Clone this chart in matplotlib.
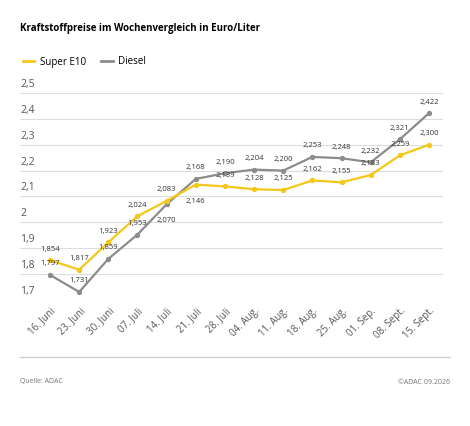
import matplotlib
matplotlib.use("Agg")
import matplotlib.pyplot as plt
from matplotlib.lines import Line2D

dates = ["16. Juni","23. Juni","30. Juni","07. Juli","14. Juli","21. Juli","28. Juli",
         "04. Aug.","11. Aug.","18. Aug.","25. Aug.","01. Sep.","08. Sept.","15. Sept."]
e10 = [1.854,1.817,1.923,2.024,2.083,2.146,2.139,2.128,2.125,2.162,2.155,2.183,2.259,2.300]
diesel = [1.797,1.731,1.859,1.953,2.070,2.168,2.190,2.204,2.200,2.253,2.248,2.232,2.321,2.422]
yticks = [1.7,1.8,1.9,2.0,2.1,2.2,2.3,2.4,2.5]

YEL = "#f5c718"; GRY = "#8c8c8c"
plt.rcParams['font.family'] = ['Open Sans', 'DejaVu Sans']
fig = plt.figure(figsize=(4.70,4.26), dpi=100)
ax = fig.add_axes([20/470, 1-300/426, 423/470, 207/426])
x = list(range(len(dates)))
ax.set_xlim(-1.03, 13.48); ax.set_ylim(1.7, 2.5)
for t in yticks:
    ax.axhline(t, color="#dddddd", lw=0.8, zorder=0)
    ax.text(-1.03, t+0.012, f"{t:g}".replace(".", ","), fontsize=7.5, color="#555555", va="bottom", ha="left")
ax.plot(x, diesel, color=GRY, lw=1.6, marker="o", ms=2.8, zorder=3)
ax.plot(x, e10, color=YEL, lw=1.6, marker="o", ms=2.8, zorder=3)
fmt = lambda v: f"{v:.3f}".replace(".", ",")
e_off = [8]*14; e_off[5] = -12
d_off = [8]*14; d_off[4] = -12
for i in x:
    ax.annotate(fmt(e10[i]), (i, e10[i]), xytext=(0, e_off[i]), textcoords="offset points",
                ha="center", va="center", fontsize=5.5, color="#333333")
    ax.annotate(fmt(diesel[i]), (i, diesel[i]), xytext=(0, d_off[i]), textcoords="offset points",
                ha="center", va="center", fontsize=5.5, color="#333333")
ax.set_xticks(x); ax.set_xticklabels(dates, rotation=45, ha="right", rotation_mode="anchor",
                                     fontsize=7, color="#555555")
ax.tick_params(axis="x", length=0, pad=4); ax.set_yticks([])
for s in ax.spines.values(): s.set_visible(False)

fig.text(20/470, 1-29/426, "Kraftstoffpreise im Wochenvergleich in Euro/Liter", fontsize=7, weight="bold", va="center")
fig.legend(handles=[Line2D([], [], color=YEL, lw=2, label="Super E10"),
                    Line2D([], [], color=GRY, lw=2, label="Diesel")],
           loc="center left", bbox_to_anchor=(14/470, 1-62/426), ncol=2, frameon=False,
           fontsize=7, handlelength=1.2, columnspacing=1.5, handletextpad=0.6)
fig.add_artist(Line2D([20/470, 450/470], [1-357/426]*2, color="#cccccc", lw=1))
fig.text(20/470, 1-382/426, "Quelle: ADAC", fontsize=5, color="#777777", va="center")
fig.text(450/470, 1-382/426, "©ADAC 09.2026", fontsize=5, color="#777777", va="center", ha="right")
fig.savefig("out.png", dpi=100, facecolor="white")
